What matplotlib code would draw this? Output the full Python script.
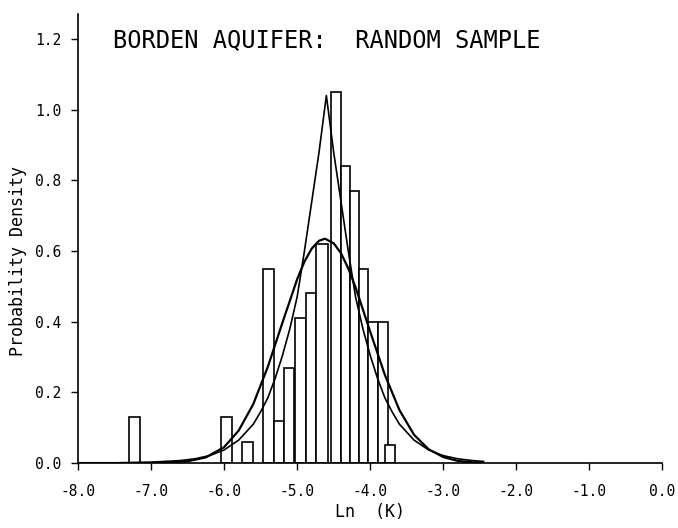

# LOADING NECESSARY Python MODULES
import numpy as np
import matplotlib
matplotlib.use("Agg")
import matplotlib.pyplot as plt

# HISTOGRAM BARS (left edge, right edge, density)
bar_left = [-7.30, -6.04, -5.76, -5.47, -5.31, -5.18, -5.03, -4.88,
            -4.74, -4.53, -4.40, -4.28, -4.15, -4.03, -3.89, -3.80]
bar_right = [-7.15, -5.89, -5.61, -5.31, -5.18, -5.04, -4.88, -4.74,
             -4.58, -4.40, -4.28, -4.15, -4.03, -3.89, -3.76, -3.66]
bar_height = [0.13, 0.13, 0.06, 0.55, 0.12, 0.27, 0.41, 0.48,
              0.62, 1.05, 0.84, 0.77, 0.55, 0.40, 0.40, 0.05]

# NORMAL FIT CURVE
norm_x = [-8.0, -7.5, -7.0, -6.75, -6.5, -6.25, -6.0, -5.8, -5.6, -5.4,
          -5.2, -5.0, -4.9, -4.8, -4.7, -4.62, -4.5, -4.4, -4.3, -4.2,
          -4.0, -3.8, -3.6, -3.4, -3.2, -3.0, -2.8, -2.6, -2.45]
norm_y = [0.000, 0.000, 0.0004, 0.0015, 0.005, 0.016, 0.045, 0.092, 0.167, 0.273,
          0.398, 0.520, 0.570, 0.607, 0.629, 0.635, 0.622, 0.594, 0.551, 0.497,
          0.372, 0.250, 0.150, 0.080, 0.039, 0.017, 0.006, 0.002, 0.001]

# PEAKED FIT CURVE
peak_x = [-8.0, -7.5, -7.0, -6.6, -6.4, -6.2, -6.0, -5.8, -5.6, -5.5,
          -5.4, -5.3, -5.2, -5.1, -5.0, -4.9, -4.8, -4.7, -4.6, -4.5,
          -4.4, -4.3, -4.2, -4.1, -4.0, -3.9, -3.8, -3.7, -3.6, -3.4,
          -3.2, -3.0, -2.8, -2.6, -2.45]
peak_y = [0.0001, 0.0005, 0.0025, 0.007, 0.012, 0.021, 0.037, 0.065, 0.110, 0.145,
          0.185, 0.240, 0.305, 0.380, 0.470, 0.600, 0.740, 0.880, 1.040, 0.880,
          0.740, 0.600, 0.470, 0.380, 0.305, 0.240, 0.185, 0.145, 0.110, 0.065,
          0.037, 0.021, 0.012, 0.007, 0.0045]

x_ticks = [-8.0, -7.0, -6.0, -5.0, -4.0, -3.0, -2.0, -1.0, 0.0]
y_ticks = [0.0, 0.2, 0.4, 0.6, 0.8, 1.0, 1.2]

plt.rcParams['font.family'] = ['DejaVu Sans Mono', 'DejaVu Sans']

############################ PLOT ##########################
fig = plt.figure(figsize=(6.78, 5.28), dpi=100)
ax = fig.add_axes([0.115, 0.123, 0.862, 0.850])

widths = np.array(bar_right) - np.array(bar_left)
ax.bar(bar_left, bar_height, width=widths, align='edge',
       facecolor='white', edgecolor='black', linewidth=1.2, zorder=2)
ax.plot(norm_x, norm_y, color='black', linewidth=1.6, zorder=3)
ax.plot(peak_x, peak_y, color='black', linewidth=1.2, zorder=3)

ax.set_xlim(-8.0, 0.0)
ax.set_ylim(0.0, 1.27)
ax.set_xticks(x_ticks)
ax.set_xticklabels(['%.1f' % v for v in x_ticks])
ax.set_yticks(y_ticks)
ax.set_yticklabels(['%.1f' % v for v in y_ticks])
ax.spines['top'].set_visible(False)
ax.spines['right'].set_visible(False)
ax.spines['left'].set_linewidth(1.2)
ax.spines['bottom'].set_linewidth(1.2)
ax.tick_params(axis='x', direction='out', length=5, width=1, pad=10, labelsize=10.5)
ax.tick_params(axis='y', direction='out', length=5, width=1, pad=7, labelsize=10.5)

ax.set_xlabel('Ln  (K)', fontsize=12, labelpad=3)
ax.set_ylabel('Probability Density', fontsize=12, labelpad=9)
ax.yaxis.set_label_coords(-0.088, 0.45)
fig.text(0.167, 0.924, 'BORDEN AQUIFER:  RANDOM SAMPLE', fontsize=17,
         va='center', ha='left')

plt.savefig('out.png', dpi=100)
